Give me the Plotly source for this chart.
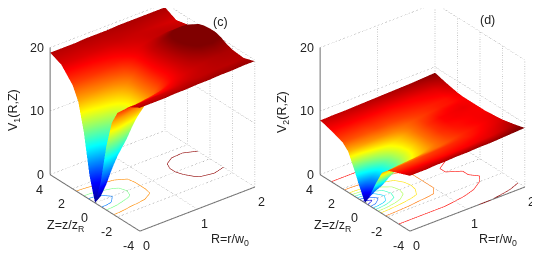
import plotly.graph_objects as go

R_vals = [0, .1, .2, .3, .45, .6, .8, 1, 1.2, 1.4, 1.6, 1.8, 2]
Z_vals = [-4, -3, -2, -1.5, -1, -.5, 0, .5, 1, 1.5, 2, 3, 4]

V1 = [
 [19.4,19.4,19.4,19.4,19.4,19.5,19.5,19.6,19.6,19.7,19.7,19.8,19.8],
 [18.4,18.4,18.4,18.4,18.5,18.5,18.6,18.8,18.9,19.0,19.1,19.1,19.2],
 [16.4,16.4,16.5,16.6,16.8,17.0,17.4,18.0,18.5,18.9,19.2,19.4,19.4],
 [14.3,14.4,14.6,14.9,15.2,15.6,16.3,17.6,18.5,19.2,19.7,19.9,19.7],
 [10.0,10.2,10.8,11.6,12.4,13.4,15.4,17.4,18.5,19.5,20.3,20.5,20.2],
 [3.8,4.2,5.3,7.0,9.0,11.5,15.3,17.4,18.6,19.8,20.7,20.9,20.5],
 [0.0,0.7,2.3,5.0,7.7,11.0,15.3,17.5,18.7,20.0,20.9,21.0,20.5],
 [3.8,4.2,5.3,7.0,9.0,11.5,15.3,17.5,18.8,20.0,21.0,21.0,20.4],
 [10.0,10.2,10.8,11.6,12.4,13.4,15.4,17.5,18.8,19.8,20.6,20.7,20.1],
 [14.3,14.4,14.6,14.9,15.2,15.6,16.3,17.6,18.6,19.3,19.8,19.9,19.5],
 [16.3,16.4,16.5,16.6,16.8,17.0,17.4,18.0,18.4,18.8,19.0,19.0,18.9],
 [18.4,18.4,18.4,18.4,18.4,18.5,18.6,18.8,18.8,18.8,18.7,18.6,18.5],
 [19.2,19.2,19.2,19.2,19.2,19.3,19.3,19.3,19.4,19.4,19.4,19.4,19.4],
]

V2 = [
 [8.7,8.7,8.7,8.7,8.8,8.8,8.9,8.9,9.0,9.0,9.1,9.2,9.3],
 [8.0,8.0,8.0,8.0,8.0,8.0,8.0,8.05,8.1,8.2,8.3,8.5,8.8],
 [7.3,7.3,7.3,7.3,7.3,7.4,7.5,7.6,7.7,7.8,8.0,8.2,8.4],
 [6.4,6.4,6.5,6.6,6.7,6.8,6.9,7.1,7.4,7.7,7.9,8.1,8.3],
 [4.3,4.4,4.6,4.9,5.3,5.7,6.3,7.0,7.5,7.8,8.0,8.1,8.2],
 [2.0,2.2,2.6,3.3,4.3,5.2,6.1,7.0,7.6,7.9,8.0,8.1,8.1],
 [0.0,0.8,1.8,2.7,4.0,5.0,6.0,7.0,7.6,8.0,8.1,8.1,8.1],
 [2.0,2.2,2.6,3.3,4.3,5.2,6.1,7.0,7.6,8.0,8.1,8.2,8.1],
 [4.3,4.4,4.6,4.9,5.3,5.7,6.3,7.0,7.5,7.8,8.0,8.1,8.1],
 [6.4,6.4,6.5,6.6,6.7,6.8,6.9,7.1,7.4,7.6,7.8,7.9,8.1],
 [7.3,7.3,7.3,7.3,7.3,7.4,7.4,7.5,7.6,7.7,7.8,7.9,8.2],
 [8.0,8.0,8.0,8.0,8.0,8.0,8.0,8.0,8.05,8.1,8.2,8.3,8.6],
 [8.55,8.55,8.6,8.6,8.6,8.65,8.7,8.75,8.8,8.85,8.9,9.0,9.1],
]

R_ticks = [0, 1, 2]
Z_ticks = [-4, -2, 0, 2, 4]
V_ticks = [0, 10, 20]
V_top = 22
V1_levels = [5, 10, 15, 20]
V2_levels = [1, 2, 3, 4, 5, 6, 7, 8, 9]

JET_STOPS = [(0, (0, 0, 143)), (.125, (0, 0, 255)), (.375, (0, 255, 255)), (.625, (255, 255, 0)),
             (.875, (255, 0, 0)), (1, (128, 0, 0))]
JET = [[p, 'rgb(%d,%d,%d)' % c] for p, c in JET_STOPS]
FONT = dict(family='Liberation Sans, Arial', size=12.5, color='#222')
GRID = '#8a8a8a'
AXIS = '#6e6e6e'
ZOOM = 1.5
SHIFT = -.225
SIZE = 1.14
PAGE_MARGIN = 8


def jet(t):
    t = min(max(t, 0), 1)
    for (p0, c0), (p1, c1) in zip(JET_STOPS, JET_STOPS[1:]):
        if t <= p1:
            f = (t - p0) / (p1 - p0)
            return 'rgb(%d,%d,%d)' % tuple(round(a + (b - a) * f) for a, b in zip(c0, c1))
    return 'rgb(128,0,0)'


def level_segments(V, lev):
    """Contour of the read table at one level, cell by cell, for the floor of the box."""
    xs, ys = [], []
    for j in range(len(Z_vals) - 1):
        for i in range(len(R_vals) - 1):
            corners = [(R_vals[i], Z_vals[j], V[j][i]), (R_vals[i + 1], Z_vals[j], V[j][i + 1]),
                       (R_vals[i + 1], Z_vals[j + 1], V[j + 1][i + 1]), (R_vals[i], Z_vals[j + 1], V[j + 1][i])]
            cuts = []
            for k in range(4):
                a, b = corners[k], corners[(k + 1) % 4]
                if (a[2] < lev) != (b[2] < lev):
                    f = (lev - a[2]) / (b[2] - a[2])
                    cuts.append((a[0] + (b[0] - a[0]) * f, a[1] + (b[1] - a[1]) * f))
            for s in range(0, len(cuts) - 1, 2):
                xs += [cuts[s][0], cuts[s + 1][0], None]
                ys += [cuts[s][1], cuts[s + 1][1], None]
    return xs, ys


def line(sc, xs, ys, zs, color, width, dash=None):
    return go.Scatter3d(x=xs, y=ys, z=zs, mode='lines', scene=sc, showlegend=False, hoverinfo='skip',
                        line=dict(color=color, width=width, dash=dash or 'solid'))


def panel(fig, sc, V, cmin, cmax, levels):
    fig.add_trace(go.Surface(x=R_vals, y=Z_vals, z=V, scene=sc, colorscale=JET, cmin=cmin, cmax=cmax,
                             showscale=False, hoverinfo='skip',
                             lighting=dict(ambient=1, diffuse=0, specular=0, roughness=1, fresnel=0)))
    r0, r1, z0, z1, v0, v1 = R_ticks[0], R_ticks[-1], Z_ticks[0], Z_ticks[-1], V_ticks[0], V_ticks[-1]
    for lev in levels:
        xs, ys = level_segments(V, lev)
        fig.add_trace(line(sc, xs, ys, [v0 if x is not None else None for x in xs], jet((lev - cmin) / (cmax - cmin)), 1.2))
    for r in R_ticks:
        fig.add_trace(line(sc, [r, r], [z0, z1], [v0, v0], GRID, 1, 'dot'))
        fig.add_trace(line(sc, [r, r], [z1, z1], [v0, v1], GRID, 1, 'dot'))
    for z in Z_ticks:
        fig.add_trace(line(sc, [r0, r1], [z, z], [v0, v0], GRID, 1, 'dot'))
        fig.add_trace(line(sc, [r1, r1], [z, z], [v0, v1], GRID, 1, 'dot'))
    for v in V_ticks:
        fig.add_trace(line(sc, [r0, r1], [z1, z1], [v, v], GRID, 1, 'dot'))
        fig.add_trace(line(sc, [r1, r1], [z0, z1], [v, v], GRID, 1, 'dot'))
    fig.add_trace(line(sc, [r0, r0], [z1, z1], [v0, v1], AXIS, 2))
    fig.add_trace(line(sc, [r0, r0], [z0, z1], [v0, v0], AXIS, 2))
    fig.add_trace(line(sc, [r0, r1], [z0, z0], [v0, v0], AXIS, 2))


def scene_layout(domain_x, notes):
    ax = dict(visible=False, showgrid=False, showbackground=False, zeroline=False, showticklabels=False)
    return dict(domain=dict(x=domain_x, y=[0, 1]),
                xaxis=dict(range=[R_ticks[0], R_ticks[-1]], **ax),
                yaxis=dict(range=[Z_ticks[0], Z_ticks[-1]], **ax),
                zaxis=dict(range=[V_ticks[0], V_top], **ax),
                aspectmode='manual', aspectratio=dict(x=SIZE, y=SIZE, z=SIZE * V_top / V_ticks[-1]), annotations=notes,
                camera=dict(projection=dict(type='orthographic'), center=dict(x=0, y=0, z=SHIFT),
                            up=dict(x=0, y=0, z=1), eye=dict(x=-.536*ZOOM, y=-.686*ZOOM, z=.491*ZOOM + SHIFT)))


def notes():
    out = []
    for v in V_ticks:
        out.append(dict(x=R_ticks[0], y=Z_ticks[-1], z=v, text=str(v), showarrow=False, xanchor='right', xshift=-4, font=FONT))
    for z in Z_ticks:
        out.append(dict(x=R_ticks[0], y=z, z=V_ticks[0], text=str(z), showarrow=False, xshift=-11, yshift=-15, font=FONT))
    for r in R_ticks:
        out.append(dict(x=r, y=Z_ticks[0], z=V_ticks[0], text=str(r), showarrow=False, xshift=7, yshift=-15, font=FONT))
    return out


fig = go.Figure()
panel(fig, 'scene', V1, 0, 20.3, V1_levels)
panel(fig, 'scene2', V2, 0, 9.2, V2_levels)


def txt(x, y, s, angle=0):
    return dict(xref='paper', yref='paper', x=(x - PAGE_MARGIN)/540, y=1-(y - PAGE_MARGIN)/256, text=s, showarrow=False,
                textangle=angle, xanchor='center', yanchor='middle', font=FONT)


fig.update_layout(
    width=540, height=256, margin=dict(l=0, r=0, t=0, b=0), paper_bgcolor='white', showlegend=False,
    scene=scene_layout([0, 289/540], notes()),
    scene2=scene_layout([289/540, 1], notes()),
    annotations=[
        txt(14, 110, 'V<sub>1</sub>(R,Z)', -90), txt(283, 112, 'V<sub>2</sub>(R,Z)', -90),
        txt(65, 226, 'Z=z/z<sub>R</sub>'), txt(332, 226, 'Z=z/z<sub>R</sub>'),
        txt(230, 240, 'R=r/w<sub>0</sub>'), txt(498, 240, 'R=r/w<sub>0</sub>'),
        txt(220, 22, '(c)'), txt(487, 20, '(d)'),
    ])
fig.write_html('out.html')
